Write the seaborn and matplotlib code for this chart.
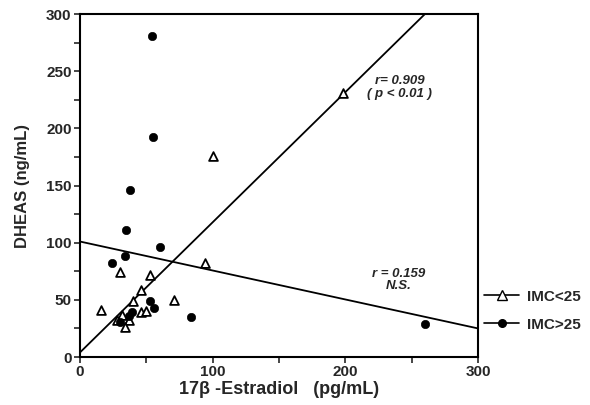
import numpy as np
import matplotlib
matplotlib.use("Agg")
import matplotlib.pyplot as plt
from matplotlib.lines import Line2D
from matplotlib.ticker import MultipleLocator
import pandas as pd
import seaborn as sns

# IMC<25 (open triangles)
low_x = [198, 100, 94, 30, 53, 46, 40, 71, 16, 46, 50, 32, 28, 37, 34]
low_y = [231, 176, 82, 74, 72, 59, 49, 50, 41, 39, 40, 37, 32, 32, 26]
# IMC>25 (filled)
high_x = [54, 55, 38, 35, 60, 24, 34, 53, 56, 39, 37, 30, 84, 260]
high_y = [281, 192, 146, 111, 96, 82, 88, 49, 43, 39, 36, 31, 35, 29]

# fitted lines as drawn in the original
fit_low_x = [0, 260]
fit_low_y = [4, 300]
fit_high_x = [0, 300]
fit_high_y = [101, 25]

labels = ["IMC<25", "IMC>25"]

sns.set_style("ticks")
plt.rcParams['font.family'] = ['Liberation Sans', 'DejaVu Sans']
plt.rcParams['font.weight'] = 'bold'

df_low = pd.DataFrame({"x": low_x, "y": low_y})
df_high = pd.DataFrame({"x": high_x, "y": high_y})

fig = plt.figure(figsize=(5.9, 4.05), dpi=100)
ax = fig.add_axes([0.1356, 0.1185, 0.6746, 0.8469])

ax.plot(fit_low_x, fit_low_y, color='black', lw=1.3)
ax.plot(fit_high_x, fit_high_y, color='black', lw=1.3)

sns.scatterplot(data=df_low, x="x", y="y", marker='^', s=40, facecolor='white',
                edgecolor='black', linewidth=1.3, ax=ax, zorder=3)
sns.scatterplot(data=df_high, x="x", y="y", marker='o', s=36, color='black',
                edgecolor='black', ax=ax, zorder=3)

ax.set_xlim(0, 300)
ax.set_ylim(0, 300)
ax.xaxis.set_major_locator(MultipleLocator(100))
ax.xaxis.set_minor_locator(MultipleLocator(50))
ax.yaxis.set_major_locator(MultipleLocator(50))
ax.yaxis.set_minor_locator(MultipleLocator(25))
ax.tick_params(which='both', direction='out', length=4, width=1.2, labelsize=11, pad=2)
for s in ax.spines.values():
    s.set_linewidth(1.5)
    s.set_color('black')

ax.set_xlabel("17β -Estradiol   (pg/mL)", fontsize=13, fontweight='bold', labelpad=1)
ax.set_ylabel("DHEAS (ng/mL)", fontsize=12, fontweight='bold', labelpad=12)

ax.text(241, 241, "r= 0.909", fontsize=9.5, style='italic', weight='bold', ha='center', va='center')
ax.text(241, 230, "( p < 0.01 )", fontsize=9.5, style='italic', weight='bold', ha='center', va='center')
ax.text(240, 73, "r = 0.159", fontsize=9.5, style='italic', weight='bold', ha='center', va='center')
ax.text(240, 62, "N.S.", fontsize=9.5, style='italic', weight='bold', ha='center', va='center')

handles = [
    Line2D([0], [0], color='black', lw=1.2, marker='^', markersize=6.5,
           markerfacecolor='white', markeredgecolor='black'),
    Line2D([0], [0], color='black', lw=1.2, marker='o', markersize=5.5,
           markerfacecolor='black'),
]
leg = ax.legend(handles, labels, loc='center left', bbox_to_anchor=(1.0, 0.135),
                borderaxespad=0, borderpad=0.4, frameon=False, handlelength=2.3,
                handletextpad=0.5, labelspacing=0.9, fontsize=11, numpoints=1)

fig.savefig("out.png", dpi=100)
